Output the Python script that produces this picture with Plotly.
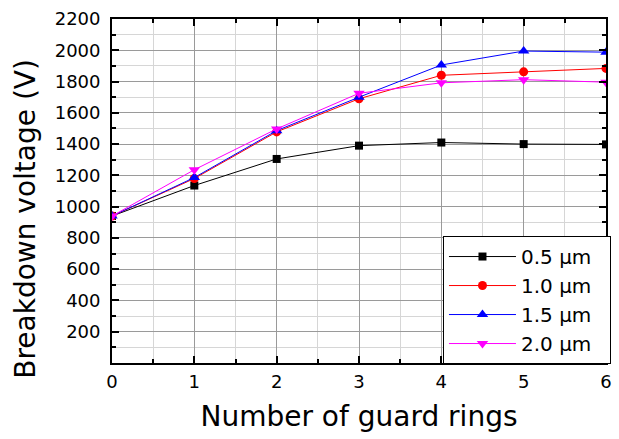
import plotly.graph_objects as go

# Breakdown voltage vs. number of guard rings for several ring spacings
rings = [0, 1, 2, 3, 4, 5, 6]
v_05 = [940, 1135, 1305, 1390, 1410, 1400, 1398]
v_10 = [940, 1180, 1478, 1690, 1840, 1862, 1884]
v_15 = [940, 1186, 1486, 1700, 1906, 1995, 1988]
v_20 = [940, 1236, 1497, 1725, 1792, 1812, 1796]

series = [
    ("0.5 \u03bcm", v_05, "black", "square", 8),
    ("1.0 \u03bcm", v_10, "red", "circle", 9),
    ("1.5 \u03bcm", v_15, "blue", "triangle-up", 10),
    ("2.0 \u03bcm", v_20, "magenta", "triangle-down", 10),
]

y_ticks = list(range(200, 2201, 200))
x_ticks = rings

FONT = "DejaVu Sans, Liberation Sans, Arial, sans-serif"
PAD = "\u00a0\u00a0"  # right padding inside the legend box

fig = go.Figure()
for i, (name, vals, color, symbol, size) in enumerate(series):
    fig.add_trace(go.Scatter(
        x=rings, y=vals, name=name + PAD, mode="lines+markers",
        legendgroup=f"g{i}",
        line=dict(color=color, width=1),
        marker=dict(symbol=symbol, size=size, color=color),
    ))

axis_common = dict(
    showline=True, linecolor="black", linewidth=1.8, mirror="ticks",
    ticks="inside", tickcolor="black", tickwidth=1.5, ticklen=7,
    showgrid=True, gridcolor="#9a9a9a", gridwidth=1,
    zeroline=False,
    tickfont=dict(family=FONT, size=18, color="black"),
)

fig.update_xaxes(
    range=[0, 6], tickvals=x_ticks, ticktext=[str(t) for t in x_ticks],
    title_text="Number of guard rings", title_standoff=16,
    title_font=dict(family=FONT, size=28, color="black"),
    ticklabelstandoff=1,
    minor=dict(dtick=0.5, showgrid=True, gridcolor="#d6d6d6", gridwidth=1,
               ticks="inside", ticklen=4, tickcolor="black", tickwidth=1.5),
    **axis_common,
)
fig.update_yaxes(
    range=[0, 2200], tickvals=y_ticks, ticktext=[str(t) for t in y_ticks],
    ticklabelstandoff=6,
    minor=dict(dtick=100, tick0=0, showgrid=True, gridcolor="#d6d6d6", gridwidth=1,
               ticks="inside", ticklen=4, tickcolor="black", tickwidth=1.5),
    **axis_common,
)

# y-axis title placed as a rotated label, sitting a little below centre
fig.add_annotation(
    text="Breakdown voltage (V)", textangle=-90,
    xref="paper", yref="paper", x=-0.213, y=0.42,
    xanchor="left", yanchor="middle", showarrow=False,
    font=dict(family=FONT, size=28, color="black"),
)

fig.update_layout(
    width=619, height=439,
    margin=dict(l=112, r=7, t=19, b=76),
    paper_bgcolor="white", plot_bgcolor="white",
    font=dict(family=FONT, color="black"),
    legend=dict(
        x=0.67, y=-0.003, xanchor="left", yanchor="bottom",
        bgcolor="white", bordercolor="black", borderwidth=1,
        font=dict(family=FONT, size=20, color="black"),
        tracegroupgap=0, itemwidth=67,
    ),
)

fig.write_html("out.html")
